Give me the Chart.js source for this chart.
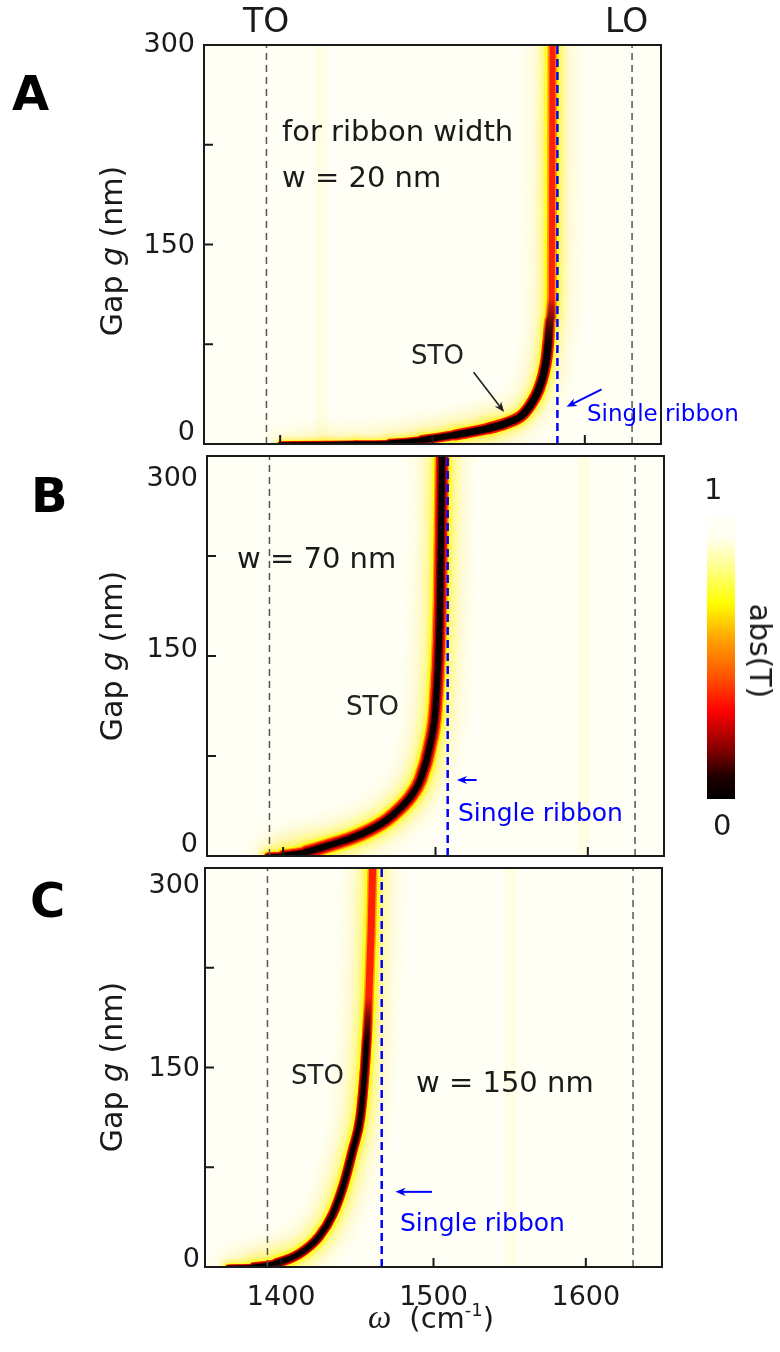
<!DOCTYPE html>
<html>
<head>
<meta charset="utf-8">
<title>STO dispersion vs gap</title>
<script src="https://cdn.jsdelivr.net/npm/chart.js@4.4.1/dist/chart.umd.min.js"></script>
<style>
  html, body { margin: 0; padding: 0; background: #fff; }
  body { position: relative; width: 780px; height: 1352px; overflow: hidden;
         font-family: "DejaVu Sans", sans-serif; color: #1a1a1a; }
  canvas { position: absolute; left: 0; }
  .txt { position: absolute; white-space: nowrap; line-height: 1; z-index: 5; }
  .letter { font-weight: bold; font-size: 48px; color: #000; }
  .ytitle { font-size: 30px; transform: translate(-50%, -50%) rotate(-90deg); }
  .ytitle i { font-style: oblique; }
  .big { font-size: 29px; }
  .sto { font-size: 26px; color: #222; }
  .blue { color: #0000ff; }
  #cbar { position: absolute; left: 707px; top: 515px; width: 28px; height: 284px;
          background: linear-gradient(to top, #000 0%, #200000 8%, #800000 17%, #ff0000 31%,
                      #ff6000 45%, #ffa000 56%, #ffff00 69%, #ffff90 82%, #fffff0 92%, #fffff6 100%); }
</style>
</head>
<body>

<canvas id="chartA" width="780" height="455" style="top:0px"></canvas>
<canvas id="chartB" width="780" height="415" style="top:450px"></canvas>
<canvas id="chartC" width="780" height="492" style="top:860px"></canvas>

<div class="txt letter" style="left:12px; top:69px">A</div>
<div class="txt letter" style="left:31px; top:471px">B</div>
<div class="txt letter" style="left:30px; top:876px">C</div>

<div class="txt ytitle" style="left:112px; top:251px">Gap <i>g</i> (nm)</div>
<div class="txt ytitle" style="left:112px; top:656px">Gap <i>g</i> (nm)</div>
<div class="txt ytitle" style="left:112px; top:1067px">Gap <i>g</i> (nm)</div>

<div class="txt" style="left:243px; top:4px; font-size:33px">TO</div>
<div class="txt" style="left:605px; top:4px; font-size:33px">LO</div>

<div class="txt big" style="left:282px; top:117px">for ribbon width</div>
<div class="txt big" style="left:282px; top:163px">w = 20 nm</div>
<div class="txt sto" style="left:411px; top:342px">STO</div>
<div class="txt blue" style="left:587px; top:402px; font-size:23px">Single ribbon</div>

<div class="txt big" style="left:237px; top:544px">w = 70 nm</div>
<div class="txt sto" style="left:346px; top:693px">STO</div>
<div class="txt blue" style="left:458px; top:800px; font-size:25px">Single ribbon</div>

<div class="txt sto" style="left:291px; top:1062px">STO</div>
<div class="txt big" style="left:416px; top:1068px">w = 150 nm</div>
<div class="txt blue" style="left:400px; top:1210px; font-size:25px">Single ribbon</div>

<div class="txt" style="left:368px; top:1301px; font-size:29px"><span style="font-family:'Liberation Serif',serif; font-style:italic; font-size:33px">ω</span><span style="margin-left:18px">(cm<span style="font-size:18px; position:relative; top:-12px">-1</span>)</span></div>

<div id="cbar"></div>
<div class="txt" style="left:704px; top:475px; font-size:29px">1</div>
<div class="txt" style="left:713px; top:811px; font-size:29px">0</div>
<div class="txt" style="left:760px; top:651px; font-size:30px; transform: translate(-50%, -50%) rotate(90deg)">abs(T)</div>

<script>
// ---- data ----
// frequency axis (cm^-1) and gap axis (nm)
const xTicks = [1400, 1500, 1600];
const yTicks = [75, 150, 225];
const yLabels = [0, 150, 300];

// phonon lines
const omegaTO = 1391;
const omegaLO = 1631;

// single-ribbon resonance for w = 20, 70, 150 nm
const singleRibbon = [1582, 1508, 1466];

// STO branch (ridge of the map), panel A: w = 20 nm
const omegaA = [1400, 1430, 1450, 1472, 1493, 1515, 1537, 1548, 1559, 1565, 1569.6, 1573, 1575, 1576.1, 1577.2, 1578.3, 1578.6, 1578.8];
const gapA   = [0,    0.3,  0.6,  1.0,  3.0,  6.8,  11.8, 15.5, 21.8, 30.6, 40.6,   53.2, 65.6, 78.2,   93.2,   108,    200,    300];

// panel B: w = 70 nm
const omegaB = [1390, 1400, 1415, 1431, 1445, 1457, 1468, 1477, 1484, 1490, 1496.4, 1500.4, 1503, 1504.3];
const gapB   = [0,    0.5,  3,    8.3,  13.5, 19.5, 27,   36,   45,   57,   83,     117,    192,  300];

// panel C: w = 150 nm
const omegaC = [1365, 1382, 1397, 1412, 1425, 1434, 1441, 1447, 1452, 1455, 1457.5, 1459, 1460];
const gapC   = [0,    0.5,  3,    10,   23,   40,   62,   88,   113,  150,  200,    250,  300];

// faint vertical stripes in the background of each map
const stripesA = [1427];
const stripesB = [1597];
const stripesC = [1551];

// ---- panel layout ----
// full: halo / yellow / orange / red over the whole ridge
// core: red / dark red / black, fading out above blackMax
const panels = [
  { id: 'chartA', top: 0, height: 455, left: 204, right: 661, areaTop: 45, areaBottom: 444,
    omega: omegaA, gap: gapA, single: singleRibbon[0], stripes: stripesA, blackMax: 92,
    full: [28, 16, 10, 6], core: [12, 9, 7], labelRight: 195, yShift: [-14, -1, -3], xLabels: false,
    arrows: [
      { from: [1527, 54], to: [1547, 24], color: '#222', lw: 1.6 },
      { from: [1611, 41], to: [1588, 28], color: '#0000ff', lw: 2 }
    ] },
  { id: 'chartB', top: 450, height: 415, left: 207, right: 664, areaTop: 456, areaBottom: 856,
    omega: omegaB, gap: gapB, single: singleRibbon[1], stripes: stripesB, blackMax: 400,
    full: [36, 20, 15, 12], core: [12, 9, 6], labelRight: 198, yShift: [-14, -9, 20], xLabels: false,
    arrows: [ { from: [1527, 57], to: [1514, 57], color: '#0000ff', lw: 2 } ] },
  { id: 'chartC', top: 860, height: 492, left: 205, right: 662, areaTop: 868, areaBottom: 1267,
    omega: omegaC, gap: gapC, single: singleRibbon[2], stripes: stripesC, blackMax: 185,
    full: [32, 16, 10, 7], core: [10, 8, 5], labelRight: 200, yShift: [-10, -1, 15], xLabels: true,
    arrows: [ { from: [1499, 56.5], to: [1475, 56.5], color: '#0000ff', lw: 2 } ] }
];

const FONT = '"DejaVu Sans", sans-serif';

// ridge gets thinner where it runs flat (as on the map)
function slopeWidth(ctx, w) {
  const dx = ctx.p1.x - ctx.p0.x, dy = ctx.p1.y - ctx.p0.y;
  const s = Math.abs(dy) / (Math.hypot(dx, dy) || 1);
  return w * Math.min(1, 0.45 + 2.5 * s);
}

// colour that fades to transparent above gap = gMax
function fadeAbove(chart, rgb, gMax) {
  const solid = 'rgba(' + rgb + ',1)';
  if (!chart.chartArea) return solid;
  const ys = chart.scales.y;
  const grad = chart.ctx.createLinearGradient(0, ys.getPixelForValue(gMax - 18), 0, ys.getPixelForValue(gMax + 18));
  grad.addColorStop(0, solid);
  grad.addColorStop(1, 'rgba(' + rgb + ',0)');
  return grad;
}

function drawArrow(ctx, x0, y0, x1, y1, color, lw) {
  const head = 11, ang = Math.atan2(y1 - y0, x1 - x0);
  ctx.strokeStyle = color; ctx.fillStyle = color; ctx.lineWidth = lw;
  ctx.beginPath();
  ctx.moveTo(x0, y0);
  ctx.lineTo(x1 - Math.cos(ang) * head * 0.6, y1 - Math.sin(ang) * head * 0.6);
  ctx.stroke();
  ctx.beginPath();
  ctx.moveTo(x1, y1);
  ctx.lineTo(x1 - head * Math.cos(ang - 0.38), y1 - head * Math.sin(ang - 0.38));
  ctx.lineTo(x1 - head * 0.65 * Math.cos(ang), y1 - head * 0.65 * Math.sin(ang));
  ctx.lineTo(x1 - head * Math.cos(ang + 0.38), y1 - head * Math.sin(ang + 0.38));
  ctx.closePath();
  ctx.fill();
}

function makeDeco(p) {
  return {
    id: 'deco_' + p.id,
    beforeDatasetsDraw(chart) {
      const { ctx, chartArea: a } = chart;
      ctx.save();
      ctx.fillStyle = '#fffff6';
      ctx.fillRect(a.left, a.top, a.width, a.height);
      ctx.restore();
    },
    beforeDatasetDraw(chart, args) {
      const ds = chart.data.datasets[args.index];
      if (ds.glow) {
        chart.ctx.save();
        chart.ctx.shadowColor = ds.glow.color;
        chart.ctx.shadowBlur = ds.glow.blur;
      }
    },
    afterDatasetDraw(chart, args) {
      if (chart.data.datasets[args.index].glow) chart.ctx.restore();
    },
    afterDraw(chart) {
      const { ctx, chartArea: a, scales: { x, y } } = chart;
      ctx.save();
      // frame
      ctx.strokeStyle = '#1a1a1a';
      ctx.lineWidth = 2;
      ctx.strokeRect(a.left, a.top, a.width, a.height);
      // inward ticks
      ctx.beginPath();
      yTicks.forEach(v => { const py = y.getPixelForValue(v); ctx.moveTo(a.left, py); ctx.lineTo(a.left + 9, py); });
      xTicks.forEach(v => { const px = x.getPixelForValue(v); ctx.moveTo(px, a.bottom); ctx.lineTo(px, a.bottom - 9); });
      ctx.stroke();
      // tick labels
      ctx.fillStyle = '#1a1a1a';
      ctx.font = '27px ' + FONT;
      ctx.textAlign = 'right';
      ctx.textBaseline = 'alphabetic';
      yLabels.forEach((v, i) => {
        const py = y.getPixelForValue(v) + p.yShift[i];
        ctx.fillText(String(v), p.labelRight, py + 0.729 * 27 / 2);
      });
      if (p.xLabels) {
        ctx.textAlign = 'center';
        xTicks.forEach(v => ctx.fillText(String(v), x.getPixelForValue(v), a.bottom + 38));
      }
      // arrows
      p.arrows.forEach(ar => drawArrow(ctx,
        x.getPixelForValue(ar.from[0]), y.getPixelForValue(ar.from[1]),
        x.getPixelForValue(ar.to[0]), y.getPixelForValue(ar.to[1]), ar.color, ar.lw));
      ctx.restore();
    }
  };
}

function makeChart(p) {
  const curve = p.omega.map((w, i) => ({ x: w, y: p.gap[i] }));
  const vline = w => [{ x: w, y: 0 }, { x: w, y: 300 }];

  const ridge = (color, w, order, glow) => ({
    data: curve, borderColor: color, borderWidth: w, order, glow,
    segment: { borderWidth: c => slopeWidth(c, w) },
    borderCapStyle: 'round', borderJoinStyle: 'round',
    cubicInterpolationMode: 'monotone', pointRadius: 0, fill: false, clip: 0
  });
  const coreRidge = (rgb, w, order) => ridge(c => fadeAbove(c.chart, rgb, p.blackMax), w, order);

  const datasets = [
    ...p.stripes.map(w => ({ data: vline(w), borderColor: 'rgba(255,243,150,0.18)', borderWidth: 12,
                              pointRadius: 0, order: 30, clip: 0 })),
    ridge('rgba(255,255,160,0.6)', p.full[0], 20, { color: 'rgba(255,236,90,0.95)', blur: 22 }),
    ridge('#ffff28', p.full[1], 19, { color: 'rgba(255,230,60,0.8)', blur: 6 }),
    ridge('#ffa000', p.full[2], 18),
    ridge('#ff2000', p.full[3], 17),
    coreRidge('255,24,0', p.core[0], 16),
    coreRidge('144,0,0', p.core[1], 15),
    coreRidge('5,0,0', p.core[2], 14),
    { data: vline(omegaTO), borderColor: '#555', borderWidth: 1.5, borderDash: [7, 5], pointRadius: 0, order: 5, clip: 0 },
    { data: vline(omegaLO), borderColor: '#555', borderWidth: 1.5, borderDash: [7, 5], pointRadius: 0, order: 5, clip: 0 },
    { data: vline(p.single), borderColor: '#0000ff', borderWidth: 2.5, borderDash: [8, 5], pointRadius: 0, order: 4, clip: 0 }
  ];

  new Chart(document.getElementById(p.id), {
    type: 'line',
    data: { datasets },
    options: {
      responsive: false,
      animation: false,
      layout: { padding: { left: p.left, right: 780 - p.right, top: p.areaTop - p.top,
                           bottom: p.top + p.height - p.areaBottom } },
      plugins: { legend: { display: false }, tooltip: { enabled: false } },
      scales: {
        x: { type: 'linear', min: 1350, max: 1650, display: false },
        y: { type: 'linear', min: 0, max: 300, display: false }
      }
    },
    plugins: [makeDeco(p)]
  });
}

panels.forEach(makeChart);
</script>
</body>
</html>
